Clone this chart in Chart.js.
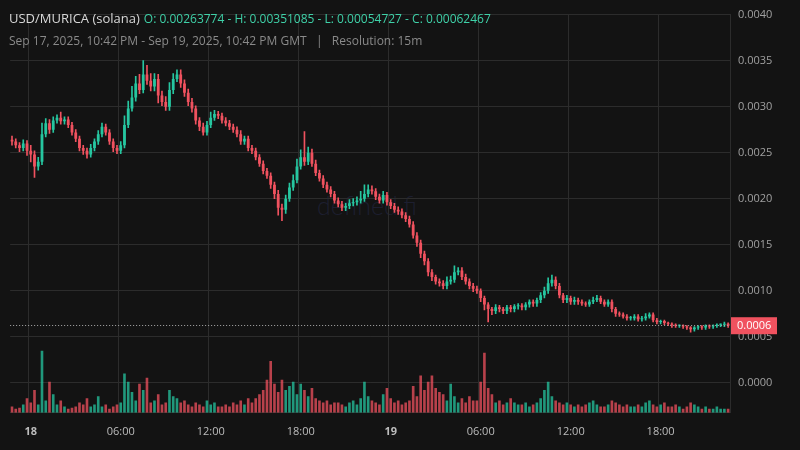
<!DOCTYPE html>
<html><head><meta charset="utf-8">
<script src="https://cdn.jsdelivr.net/npm/chart.js@4.4.0/dist/chart.umd.min.js"></script>
<style>
html,body{margin:0;padding:0;background:#131313;width:800px;height:450px;overflow:hidden;font-family:"Open Sans",sans-serif}
#wrap{position:absolute;left:0;top:0;width:800px;height:450px}
#h1{position:absolute;left:9px;top:9px;font-size:13px;color:#d8d8d8;white-space:nowrap}
#h1 span{color:#3fd1a8;font-size:12px;margin-left:4px}
#h2{position:absolute;left:9px;top:32px;font-size:12px;color:#8a8a8a;white-space:nowrap}
#wm{position:absolute;left:317px;top:190px;font-size:25px;color:#1d1f30;font-family:Lato,sans-serif;font-weight:300}
</style></head><body>
<div id="wm">defined.fi</div>
<div id="wrap"><canvas id="c" width="800" height="450"></canvas></div>
<div id="h1">USD/MURICA (solana)<span>O: 0.00263774 - H: 0.00351085 - L: 0.00054727 - C: 0.00062467</span></div>
<div id="h2">Sep 17, 2025, 10:42 PM - Sep 19, 2025, 10:42 PM GMT &nbsp;&nbsp;|&nbsp;&nbsp; Resolution: 15m</div>
<script>
// prices in units of 1e-5
const firstOpen = 264;
const closes = [262,258,255,260,252,248,235,240, 270,282,275,285,288,284,286,280,
272,265,255,252,248,255,262,270, 278,272,262,255,252,258,280,298,
310,325,318,335,328,322,330,312, 305,300,318,330,335,325,315,305,
298,285,278,272,280,288,292,290, 285,282,278,275,270,262,265,255,
252,245,238,230,225,215,205,190, 188,200,212,220,235,245,240,250,
238,228,222,215,210,205,198,194, 190,192,195,196,198,200,205,210,
208,202,198,204,196,192,188,186, 182,178,172,160,152,140,132,120,
115,110,108,105,110,112,120,122, 115,110,105,102,100,92,85,80,
78,82,80,78,82,80,83,84, 82,85,88,86,90,95,100,108,
112,105,95,90,92,88,90,88, 86,85,88,90,92,88,85,88,
80,75,74,72,70,70,72,69, 70,72,74,68,66,67,65,64,
63,62,62,61,60,58,60,61, 60,62,61,62,63,63,64,62];
const wickUp = [4,3,3,4,3,6,4,5, 12,5,4,4,3,6,3,3, 3,3,3,3,3,4,3,4, 4,3,3,3,3,4,10,8,
12,8,10,15,10,8,6,5, 5,6,8,6,5,5,4,4, 4,3,3,4,4,6,4,3, 3,3,3,3,3,4,3,3,
3,3,3,3,3,3,3,4, 4,4,5,6,8,8,28,6, 4,4,3,3,3,3,3,3, 3,3,4,4,4,8,10,5,
4,3,3,4,3,3,3,3, 3,3,3,3,3,3,3,3, 3,2,3,3,5,4,7,3, 3,3,3,3,3,2,2,2,
2,3,2,2,2,2,2,2, 2,2,2,2,2,3,4,6, 5,3,3,2,3,2,3,2, 2,2,2,3,3,2,2,2,
2,2,2,2,2,2,2,2, 2,3,2,2,2,1,1,1, 1,1,1,1,1,1,1,1, 1,1,1,1,1,1,2,1];
const wickDn = [4,3,4,3,5,8,12,4, 3,3,4,3,3,3,3,3, 3,3,3,4,4,3,3,3, 3,3,3,4,3,3,3,3,
3,4,4,3,4,5,5,8, 4,4,4,4,3,4,4,4, 4,4,4,3,3,3,3,3, 3,3,3,3,3,3,3,3,
3,3,3,3,3,4,5,8, 12,4,3,3,3,3,4,3, 3,3,3,3,3,3,3,3, 3,3,3,3,3,3,3,3,
3,3,3,3,3,3,3,3, 3,3,3,3,4,4,4,4, 4,3,3,3,3,3,3,3, 3,3,3,3,3,4,6,14,
4,3,3,3,3,3,3,3, 3,3,3,3,3,3,3,3, 3,3,3,3,3,3,3,3, 2,2,2,2,2,2,2,2,
3,3,2,2,2,2,2,2, 2,2,2,2,2,2,2,2, 3,2,2,2,2,3,2,2, 2,2,2,2,2,2,2,2];
const volume = [6,4,5,8,14,10,22,8, 60,12,30,18,8,12,6,4, 5,6,10,8,14,6,8,16, 6,8,4,6,8,10,38,30,
20,12,28,22,34,10,12,18, 8,10,22,16,14,10,12,8, 6,10,8,6,12,8,10,6, 6,8,6,10,8,12,8,14,
10,14,18,22,32,50,28,20, 32,22,26,30,18,28,22,16, 24,14,12,10,12,8,10,10, 8,6,10,12,8,14,30,16,
12,10,8,18,24,14,10,12, 8,10,12,26,16,36,22,30, 36,24,20,18,12,28,16,10, 14,10,16,12,12,30,58,24,
18,10,12,8,10,14,10,8, 8,10,6,8,10,14,22,30, 16,12,10,8,10,8,6,8, 6,8,10,12,8,6,6,8,
12,10,8,6,8,6,6,8, 6,10,12,8,6,8,10,6, 6,8,6,4,6,10,8,6, 4,6,4,4,6,4,4,4];
const tickLabels = {5:'18',29:'06:00',53:'12:00',77:'18:00',101:'19',125:'06:00',149:'12:00',173:'18:00'};
const lastPrice = 0.00062467;

const U = 1e-5;
const cats = closes.map((_, i) => i);
const opens = closes.map((c, i) => i === 0 ? firstOpen : closes[i - 1]);
const bodies = closes.map((c, i) => [opens[i] * U, (c === opens[i] ? c + 0.3 : c) * U]);
const wicks = closes.map((c, i) => [(Math.min(c, opens[i]) - wickDn[i]) * U, (Math.max(c, opens[i]) + wickUp[i]) * U]);
const up = closes.map((c, i) => c >= opens[i]);
const G = '#26c6a0', R = '#f0525f';
const colors = up.map(u => u ? G : R);
const vcolors = up.map(u => u ? 'rgba(38,198,160,0.75)' : 'rgba(240,82,95,0.75)');

const lastLine = {
  id: 'lastLine',
  afterDatasetsDraw(ch) {
    const y = ch.scales.y.getPixelForValue(lastPrice), a = ch.chartArea, c = ch.ctx;
    c.save(); c.setLineDash([1, 2]); c.strokeStyle = '#aaaaaa'; c.lineWidth = 1;
    c.beginPath(); c.moveTo(a.left, Math.round(y) + 0.5); c.lineTo(a.right, Math.round(y) + 0.5); c.stroke();
    c.setLineDash([]); c.fillStyle = '#f0525f'; c.fillRect(a.right + 1, y - 8, 46, 17);
    c.fillStyle = '#fff'; c.font = '11px "Open Sans"'; c.textBaseline = 'middle'; c.fillText('0.0006', a.right + 7, y + 1);
    c.restore();
  }
};

new Chart(document.getElementById('c'), {
  type: 'bar',
  data: {
    labels: cats,
    datasets: [
      { data: volume, yAxisID: 'v', backgroundColor: vcolors, grouped: false, categoryPercentage: 1, barPercentage: 0.7, order: 3 },
      { data: wicks, yAxisID: 'y', backgroundColor: colors, grouped: false, barThickness: 1, order: 2 },
      { data: bodies, yAxisID: 'y', backgroundColor: colors, grouped: false, categoryPercentage: 1, barPercentage: 0.75, minBarLength: 1, order: 1 }
    ]
  },
  options: {
    responsive: false, animation: false,
    layout: { padding: { left: 0, top: 0, right: 0, bottom: 0 } },
    plugins: { legend: { display: false }, tooltip: { enabled: false } },
    scales: {
      x: {
        offset: true,
        grid: { color: c => tickLabels[c.index] ? '#2c2c2c' : 'transparent', drawTicks: false },
        border: { color: '#2c2c2c' },
        ticks: {
          autoSkip: false, maxRotation: 0, padding: 12, color: '#bdbdbd',
          callback: (v, i) => tickLabels[i] || '',
          font: c => ({ family: 'Open Sans', size: 11, weight: (tickLabels[c.index] || '').length < 3 ? 'bold' : 'normal' })
        }
      },
      y: {
        position: 'right', min: -0.000327, max: 0.0040,
        afterFit: s => { s.width = 70; },
        grid: { color: '#2c2c2c', drawTicks: false },
        border: { color: '#2c2c2c' },
        ticks: { stepSize: 0.0005, padding: 8, color: '#a0a0a0', font: { family: 'Open Sans', size: 11 },
          callback: v => v < -1e-9 ? '' : v.toFixed(4) }
      },
      v: { display: false, min: 0, max: 385 }
    }
  },
  plugins: [lastLine]
});
</script></body></html>
